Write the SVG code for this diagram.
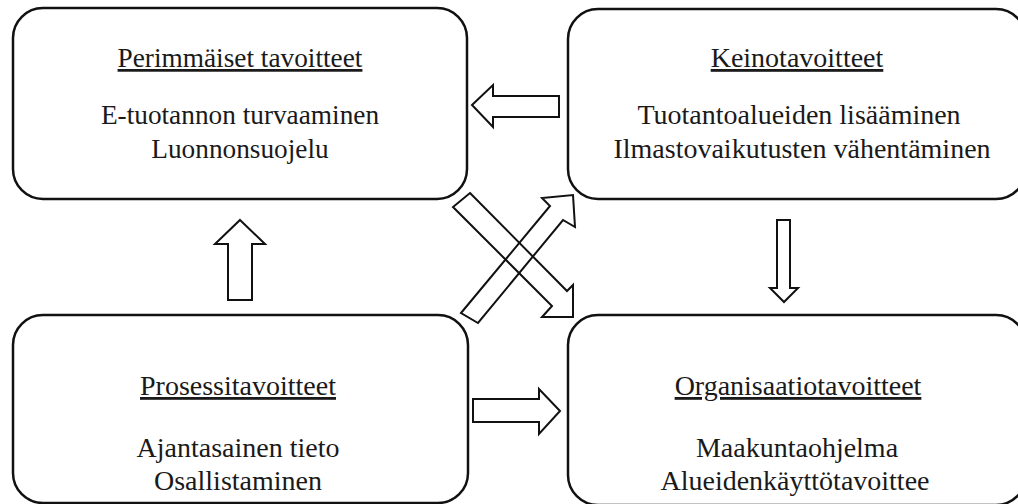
<svg xmlns="http://www.w3.org/2000/svg" width="1018" height="504" viewBox="0 0 1018 504">
<style>
.box{fill:#fff;stroke:#111;stroke-width:2.5}
.arr{fill:#fff;stroke:#111;stroke-width:2;stroke-linejoin:miter}
.x{fill:none}
text{font-family:"Liberation Serif","Times New Roman",serif;font-size:28px;fill:#1a1a1a;text-anchor:middle}
.s{font-size:27.3px}
.h{text-decoration:underline}
</style>
<rect width="1018" height="504" fill="#fff"/>
<g id="perimmaiset">
<rect class="box" x="13" y="8" width="454" height="191" rx="30"/>
<text class="h s" x="240" y="67">Perimmäiset tavoitteet</text>
<text class="s" x="240" y="124">E-tuotannon turvaaminen</text>
<text class="s" x="240" y="158">Luonnonsuojelu</text>
</g>
<g id="keinotavoitteet">
<rect class="box" x="568" y="9" width="458" height="190" rx="30"/>
<text class="h" x="797" y="67">Keinotavoitteet</text>
<text x="799" y="124">Tuotantoalueiden lisääminen</text>
<text x="802" y="158">Ilmastovaikutusten vähentäminen</text>
</g>
<g id="prosessitavoitteet">
<rect class="box" x="13" y="315" width="455" height="188" rx="30"/>
<text class="h" x="238" y="395">Prosessitavoitteet</text>
<text x="238" y="457">Ajantasainen tieto</text>
<text x="238" y="490">Osallistaminen</text>
</g>
<g id="organisaatiotavoitteet">
<rect class="box" x="568" y="315" width="458" height="190" rx="30"/>
<text class="h" x="798" y="395">Organisaatiotavoitteet</text>
<text x="797" y="457">Maakuntaohjelma</text>
<text x="795" y="490">Alueidenkäyttötavoittee</text>
</g>
<g id="connectors">
<polygon class="arr" points="472,105 493,85 493,96 559,96 559,117 493,117 493,127"/>
<polygon class="arr" points="240,220 265,244 252,244 252,300 228,300 228,244 215,244"/>
<polygon class="arr" points="777,220 790,220 790,288 798,288 784,302 770,288 777,288"/>
<polygon class="arr" points="560,411 539,389 539,399 473,399 473,422 539,422 539,434"/>
<polygon class="arr x" points="470,193 567,291 573,285 573,317 542,317 552,306 453,207"/>
<polygon class="arr x" points="461,313 550,206 542,198 573,195 575,227 563,220 478,323"/>
</g>
</svg>
